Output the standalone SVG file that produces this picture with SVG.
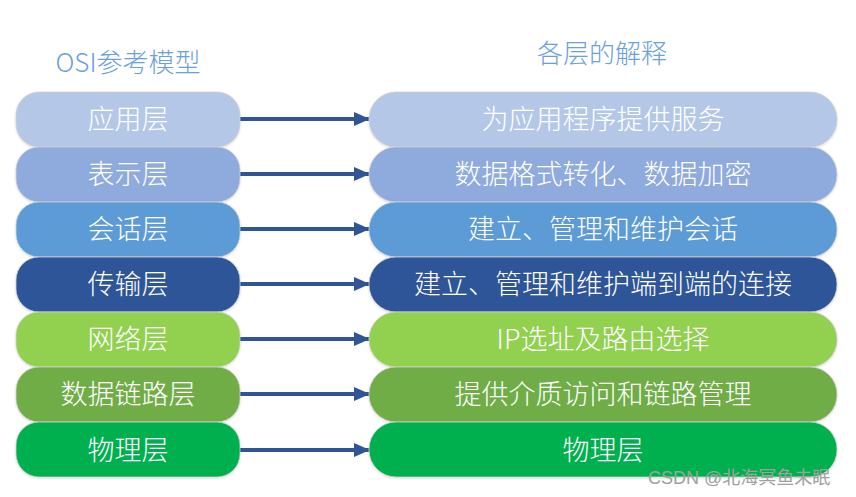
<svg xmlns="http://www.w3.org/2000/svg" width="856" height="497" viewBox="0 0 856 497">
<style>
text{font-family:"Noto Sans CJK SC","Noto Sans",sans-serif;text-anchor:middle;font-weight:300}
.hd{font-size:26px;fill:#6AA0DE}
.lb{font-size:27px;fill:#fff}
.bx{stroke:#d0d0d0;stroke-width:0.8;filter:url(#sh)}
.ar{stroke:#2F5597;stroke-width:4;fill:none;marker-end:url(#ah)}
.wm{font-family:"Liberation Sans","Noto Sans CJK SC",sans-serif;font-size:18px;fill:#a0a0a0;text-anchor:start;font-weight:400}
</style>
<defs>
<filter id="sh" x="-5%" y="-10%" width="110%" height="125%">
<feDropShadow dx="0" dy="1" stdDeviation="1" flood-color="#000" flood-opacity="0.15"/>
</filter>
<marker id="ah" markerUnits="userSpaceOnUse" markerWidth="16" markerHeight="14" refX="16" refY="7" orient="auto">
<path d="M0,0 L16,7 L0,14 Z" fill="#2F5597"/>
</marker>
</defs>
<rect width="856" height="497" fill="#fff"/>
<g id="headers">
<text class="hd" x="128" y="72">OSI参考模型</text>
<text class="hd" x="602" y="63">各层的解释</text>
</g>
<g id="connectors">
<line class="ar" x1="240" y1="119" x2="370" y2="119"/>
<line class="ar" x1="240" y1="174" x2="370" y2="174"/>
<line class="ar" x1="240" y1="229" x2="370" y2="229"/>
<line class="ar" x1="240" y1="284" x2="370" y2="284"/>
<line class="ar" x1="240" y1="339" x2="370" y2="339"/>
<line class="ar" x1="240" y1="394" x2="370" y2="394"/>
<line class="ar" x1="240" y1="450" x2="370" y2="450"/>
</g>
<g id="osi-app"><rect class="bx" x="16" y="92" width="224" height="55" rx="23" fill="#B4C7E7"/><text class="lb" x="128" y="129">应用层</text></g>
<g id="osi-pres"><rect class="bx" x="16" y="147" width="224" height="55" rx="23" fill="#8FAADC"/><text class="lb" x="128" y="184">表示层</text></g>
<g id="osi-sess"><rect class="bx" x="16" y="202" width="224" height="55" rx="23" fill="#5B9BD5"/><text class="lb" x="128" y="239">会话层</text></g>
<g id="osi-trans"><rect class="bx" x="16" y="257" width="224" height="55" rx="23" fill="#2F5597"/><text class="lb" x="128" y="294">传输层</text></g>
<g id="osi-net"><rect class="bx" x="16" y="312" width="224" height="55" rx="23" fill="#92D050"/><text class="lb" x="128" y="349">网络层</text></g>
<g id="osi-link"><rect class="bx" x="16" y="367" width="224" height="55" rx="23" fill="#70AD47"/><text class="lb" x="128" y="404">数据链路层</text></g>
<g id="osi-phys"><rect class="bx" x="16" y="422" width="224" height="55" rx="23" fill="#00B050"/><text class="lb" x="128" y="460">物理层</text></g>
<g id="exp-app"><rect class="bx" x="369" y="92" width="468" height="55" rx="27" fill="#B4C7E7"/><text class="lb" x="603" y="129">为应用程序提供服务</text></g>
<g id="exp-pres"><rect class="bx" x="369" y="147" width="468" height="55" rx="27" fill="#8FAADC"/><text class="lb" x="603" y="184">数据格式转化、数据加密</text></g>
<g id="exp-sess"><rect class="bx" x="369" y="202" width="468" height="55" rx="27" fill="#5B9BD5"/><text class="lb" x="603" y="239">建立、管理和维护会话</text></g>
<g id="exp-trans"><rect class="bx" x="369" y="257" width="468" height="55" rx="27" fill="#2F5597"/><text class="lb" x="603" y="294">建立、管理和维护端到端的连接</text></g>
<g id="exp-net"><rect class="bx" x="369" y="312" width="468" height="55" rx="27" fill="#92D050"/><text class="lb" x="603" y="349">IP选址及路由选择</text></g>
<g id="exp-link"><rect class="bx" x="369" y="367" width="468" height="55" rx="27" fill="#70AD47"/><text class="lb" x="603" y="404">提供介质访问和链路管理</text></g>
<g id="exp-phys"><rect class="bx" x="369" y="422" width="468" height="55" rx="27" fill="#00B050"/><text class="lb" x="603" y="460">物理层</text></g>
<text class="wm" x="648" y="484">CSDN @北海冥鱼未眠</text>
</svg>
